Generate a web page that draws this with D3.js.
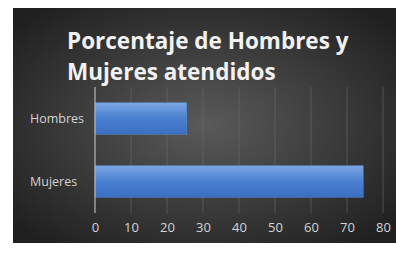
<!DOCTYPE html>
<html><head><meta charset="utf-8">
<script src="https://cdn.jsdelivr.net/npm/d3@7"></script>
<style>body{margin:0;background:#fff;}svg{display:block;}</style>
</head><body>
<script>
const categories = ["Hombres", "Mujeres"];
const values = [25.5, 74.5];
const xTicks = [0, 10, 20, 30, 40, 50, 60, 70, 80];
const titleLines = ["Porcentaje de Hombres y", "Mujeres atendidos"];

const W = 396, H = 254;
const svg = d3.select("body").append("svg").attr("width", W).attr("height", H);
const defs = svg.append("defs");
const bg = defs.append("radialGradient").attr("id","bg").attr("cx","50%").attr("cy","50%").attr("r","65%");
bg.append("stop").attr("offset","0%").attr("stop-color","#5a5a5a");
bg.append("stop").attr("offset","100%").attr("stop-color","#202020");
const bar = defs.append("linearGradient").attr("id","bar").attr("x1",0).attr("y1",0).attr("x2",0).attr("y2",1);
bar.append("stop").attr("offset","0%").attr("stop-color","#7aa6e4");
bar.append("stop").attr("offset","50%").attr("stop-color","#4a80d0");
bar.append("stop").attr("offset","100%").attr("stop-color","#3b6fc0");

svg.append("rect").attr("x",13).attr("y",8).attr("width",W-13).attr("height",235).attr("fill","url(#bg)");

const x = d3.scaleLinear().domain([0,80]).range([95,383]);
const y = d3.scaleBand().domain(categories).range([87,213]).paddingInner(0.5).paddingOuter(0.25);

svg.append("g").selectAll("line").data(xTicks.slice(1)).join("line")
  .attr("x1",d=>x(d)).attr("x2",d=>x(d)).attr("y1",87).attr("y2",213)
  .attr("stroke","#6a6a6a").attr("stroke-width",1).attr("opacity",0.6);

svg.append("g").selectAll("rect").data(values).join("rect")
  .attr("x",x(0)).attr("y",(d,i)=>y(categories[i]))
  .attr("width",d=>x(d)-x(0)).attr("height",y.bandwidth())
  .attr("fill","url(#bar)").attr("stroke","#5a8ad4").attr("stroke-width",0.5);

svg.append("line").attr("x1",x(0)).attr("x2",x(0)).attr("y1",87).attr("y2",213)
  .attr("stroke","#b8b8b8").attr("stroke-width",1.2);

const xAxis = d3.axisBottom(x).tickValues(xTicks).tickSize(0).tickPadding(0);
const gx = svg.append("g").attr("transform","translate(0,223)").call(xAxis);
gx.select(".domain").remove();
gx.selectAll("text").attr("fill","#d4d4d4").attr("font-family","'Open Sans', sans-serif").attr("font-size","13px").attr("dy","0.71em");

svg.append("g").selectAll("text").data(categories).join("text")
  .attr("x",30).attr("y",d=>y(d)+y.bandwidth()/2).attr("dy","0.35em")
  .attr("fill","#d4d4d4").attr("font-family","'Open Sans', sans-serif").attr("font-size","12.5px")
  .text(d=>d);

svg.append("g").selectAll("text").data(titleLines).join("text")
  .attr("x",67).attr("y",(d,i)=>49+i*31)
  .attr("fill","#f2f2f2").attr("font-family","'Open Sans', sans-serif").attr("font-weight",700).attr("font-size","22.5px")
  .text(d=>d);
</script>
</body></html>
